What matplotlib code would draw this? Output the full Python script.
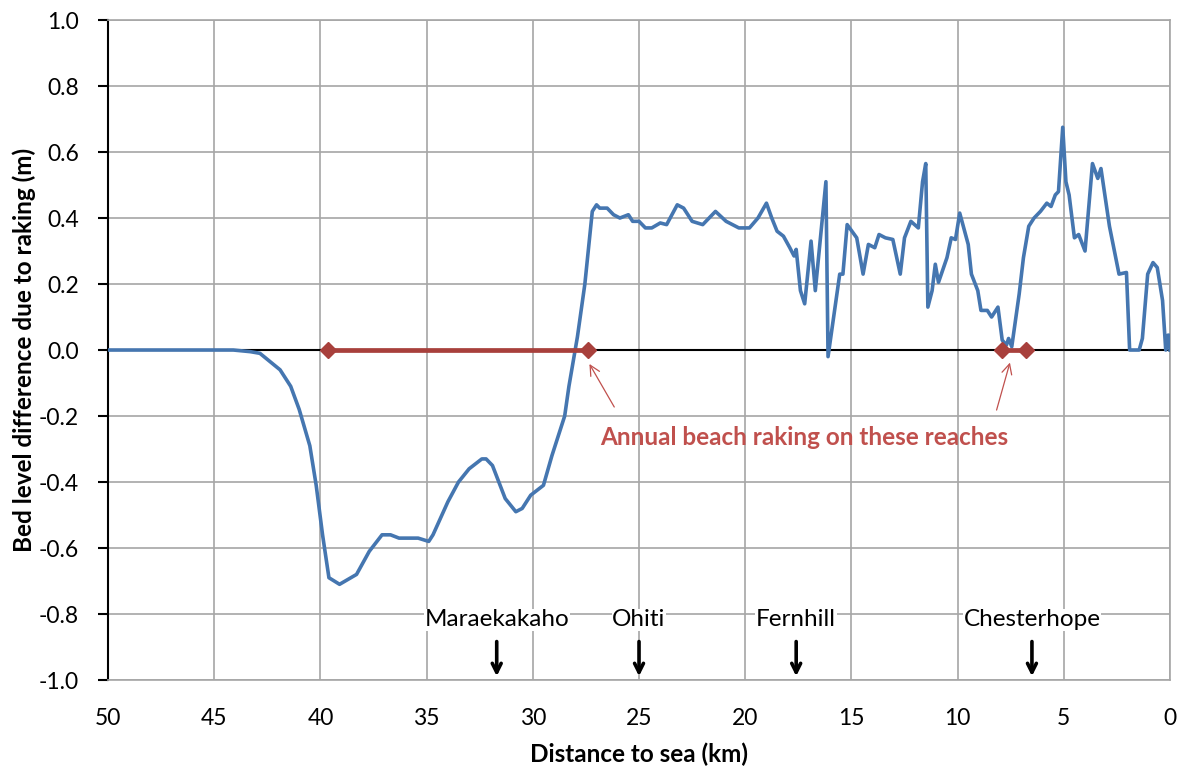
import numpy as np
import matplotlib
matplotlib.use('Agg')
import matplotlib.pyplot as plt

# ─────────────────────────────────────────────
# DATA
# ─────────────────────────────────────────────
dist_km = [50.0, 44.1, 43.3, 42.85, 41.9, 41.4, 41.0, 40.5, 40.2, 39.9, 39.6,
           39.1, 38.3, 37.7, 37.1, 36.7, 36.3, 35.4, 34.9, 34.7, 34.0, 33.5,
           33.0, 32.4, 32.2, 31.9, 31.3, 30.8, 30.5, 30.1, 29.5, 29.1, 28.5,
           28.3, 27.9, 27.55, 27.2, 27.0, 26.85, 26.5, 26.2, 25.9, 25.5, 25.3,
           25.0, 24.7, 24.4, 24.0, 23.7, 23.2, 22.9, 22.5, 22.0, 21.4, 20.9,
           20.3, 19.8, 19.4, 19.0, 18.75, 18.5, 18.2, 17.9, 17.7, 17.6, 17.4,
           17.2, 16.9, 16.7, 16.2, 16.1, 15.55, 15.4, 15.2, 14.75, 14.45,
           14.2, 13.9, 13.7, 13.4, 13.05, 12.7, 12.5, 12.2, 11.85, 11.65,
           11.5, 11.4, 11.2, 11.05, 10.9, 10.5, 10.3, 10.1, 9.9, 9.5, 9.35,
           9.05, 8.9, 8.6, 8.4, 8.1, 7.9, 7.7, 7.6, 7.45, 7.1, 6.9, 6.65,
           6.4, 6.1, 5.8, 5.6, 5.4, 5.25, 5.05, 4.9, 4.75, 4.5, 4.3, 4.0,
           3.65, 3.4, 3.25, 2.85, 2.4, 2.05, 1.9, 1.45, 1.3, 1.05, 0.8, 0.6,
           0.35, 0.2, 0.1, 0.05, 0.0]
bed_diff = [0.0, 0.0, -0.005, -0.01, -0.06, -0.11, -0.18, -0.29, -0.41, -0.56,
            -0.69, -0.71, -0.68, -0.61, -0.56, -0.56, -0.57, -0.57, -0.58,
            -0.56, -0.46, -0.40, -0.36, -0.33, -0.33, -0.35, -0.45, -0.49,
            -0.48, -0.44, -0.41, -0.32, -0.20, -0.11, 0.04, 0.20, 0.42, 0.44,
            0.43, 0.43, 0.41, 0.40, 0.41, 0.39, 0.39, 0.37, 0.37, 0.385, 0.38,
            0.44, 0.43, 0.39, 0.38, 0.42, 0.39, 0.37, 0.37, 0.40, 0.445, 0.40,
            0.36, 0.345, 0.31, 0.285, 0.305, 0.18, 0.14, 0.33, 0.18, 0.51,
            -0.02, 0.23, 0.23, 0.38, 0.34, 0.23, 0.32, 0.31, 0.35, 0.34, 0.335,
            0.23, 0.34, 0.39, 0.37, 0.51, 0.565, 0.13, 0.18, 0.26, 0.205, 0.28,
            0.34, 0.335, 0.415, 0.32, 0.23, 0.18, 0.12, 0.12, 0.10, 0.13, 0.03,
            0.015, 0.035, 0.01, 0.17, 0.28, 0.375, 0.40, 0.42, 0.445, 0.435,
            0.47, 0.48, 0.675, 0.51, 0.47, 0.34, 0.35, 0.30, 0.565, 0.52, 0.55,
            0.375, 0.23, 0.235, 0.0, 0.0, 0.035, 0.23, 0.265, 0.25, 0.15, 0.0,
            0.045, 0.045, 0.0]

raking_reaches = [(39.65, 27.4), (7.9, 6.8)]

stations = ['Maraekakaho', 'Ohiti', 'Fernhill', 'Chesterhope']
station_km = [31.7, 25.0, 17.6, 6.5]

x_ticks = [50, 45, 40, 35, 30, 25, 20, 15, 10, 5, 0]
y_ticks = [1.0, 0.8, 0.6, 0.4, 0.2, 0.0, -0.2, -0.4, -0.6, -0.8, -1.0]

BLUE = '#4576B0'
RED = '#A8403C'
ANNOT = '#C0504D'
FONT = 'Lato'

# ─────────────────────────────────────────────
# FIGURE
# ─────────────────────────────────────────────
fig = plt.figure(figsize=(11.86, 7.67), dpi=100)
ax = fig.add_axes([0.0911, 0.1134, 0.8954, 0.8605])

ax.set_xlim(50, 0)
ax.set_ylim(-1.0, 1.0)
ax.set_xticks(x_ticks)
ax.set_yticks(y_ticks)
ax.set_xticklabels([str(t) for t in x_ticks], fontsize=16.5, family=FONT)
ax.set_yticklabels([f'{t:.1f}' for t in y_ticks], fontsize=16.5, family=FONT)
ax.grid(True, color='#A6A6A6', linewidth=1.2)
ax.set_axisbelow(True)
ax.tick_params(axis='x', length=0, pad=20)
ax.tick_params(axis='y', length=7, width=1.5, direction='out', pad=14)
for name in ['top', 'right', 'bottom']:
    ax.spines[name].set_color('#A6A6A6')
    ax.spines[name].set_linewidth(1.2)
ax.spines['left'].set_linewidth(1.5)

ax.axhline(0, color='black', linewidth=1.5, zorder=2)

ax.plot(dist_km, bed_diff, color=BLUE, linewidth=2.6, zorder=4)

for a, b in raking_reaches:
    ax.plot([a, b], [0, 0], color=RED, linewidth=3.4, marker='D',
            markersize=8, zorder=5)

# annotation
ax.annotate('', xy=(27.4, -0.035), xytext=(26.1, -0.18),
            arrowprops=dict(arrowstyle='->', color=ANNOT, lw=0.9,
                            mutation_scale=18))
ax.annotate('', xy=(7.5, -0.03), xytext=(8.2, -0.19),
            arrowprops=dict(arrowstyle='->', color=ANNOT, lw=0.9,
                            mutation_scale=18))
ax.text(17.2, -0.265, 'Annual beach raking on these reaches', color=ANNOT,
        fontsize=17.5, fontweight='bold', family=FONT, ha='center',
        va='center')

# stations
for name, km in zip(stations, station_km):
    ax.text(km, -0.818, name, fontsize=17.5, family=FONT, ha='center',
            va='center', bbox=dict(facecolor='white', edgecolor='none',
                                   pad=0.5), zorder=6)
    ax.annotate('', xy=(km, -0.997), xytext=(km, -0.875),
                arrowprops=dict(arrowstyle='->', color='black', lw=2.6,
                                mutation_scale=16), zorder=6)

ax.set_xlabel('Distance to sea (km)', fontsize=17.5, fontweight='bold',
              family=FONT, labelpad=10)
ax.set_ylabel('Bed level difference due to raking (m)', fontsize=17.5,
              fontweight='bold', family=FONT, labelpad=2)

fig.savefig('out.png', dpi=100)
